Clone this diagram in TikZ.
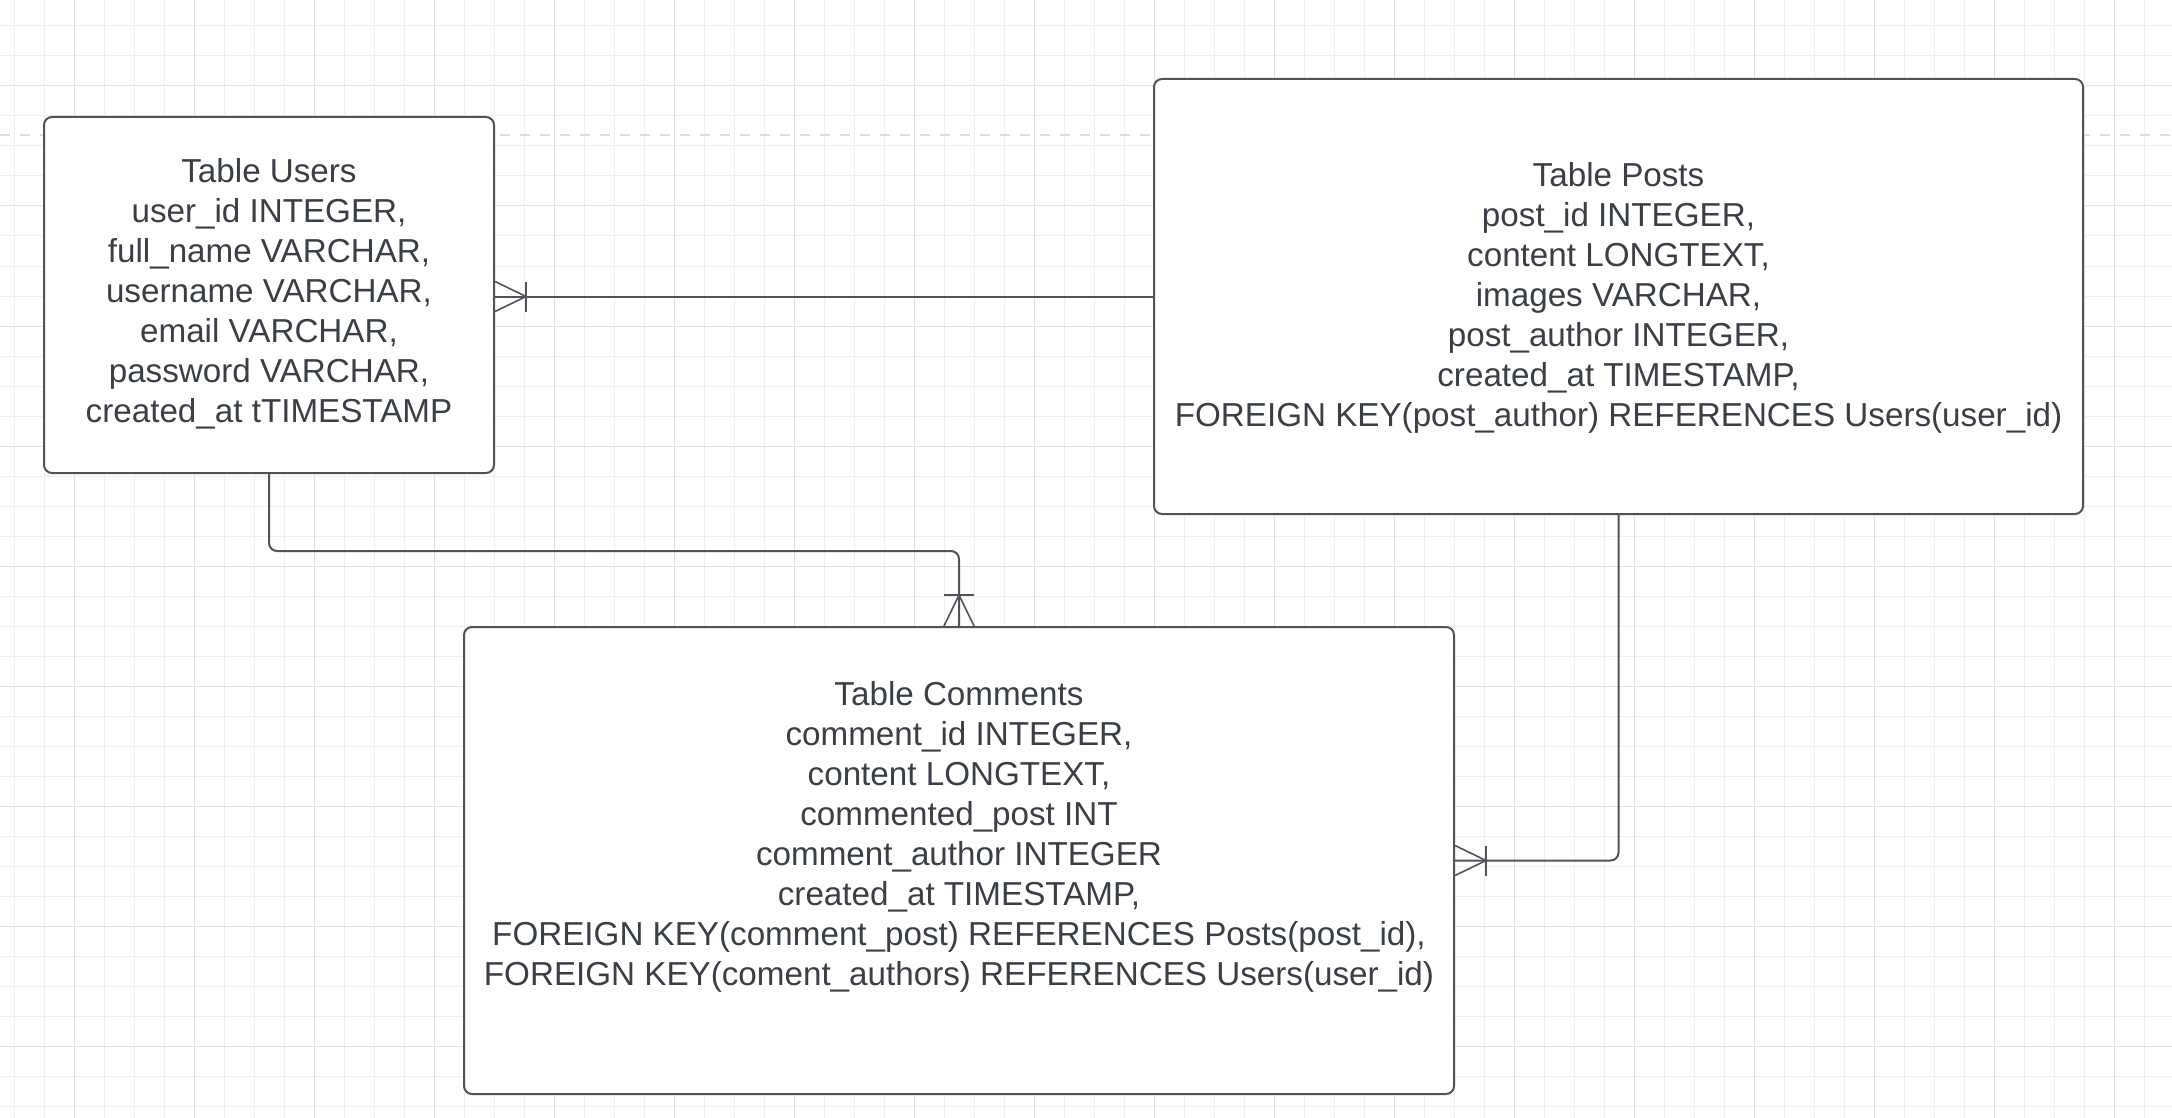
\documentclass[tikz,border=0pt]{standalone}
\usepackage{fontspec}
\setmainfont{Liberation Sans}
\definecolor{ln}{HTML}{50545A}
\definecolor{tx}{HTML}{3A3F47}
\definecolor{gmin}{HTML}{EFEFEF}
\definecolor{gmaj}{HTML}{E2E2E2}
\definecolor{dsh}{HTML}{DCDCDC}
\begin{document}
\begin{tikzpicture}[x=0.5pt,y=-0.5pt,
  tbl/.style={draw=ln, fill=white, line width=1pt, rounded corners=4pt, inner sep=0pt},
  tbltext/.style={text=tx, align=center, inner sep=0pt, font=\fontsize{16.6}{20}\selectfont},
  conn/.style={draw=ln, line width=1pt, rounded corners=4pt},
  marker/.style={draw=ln, line width=0.8pt},
  crow/.pic={\draw[marker] (0,-15) -- (31,0) -- (0,15); \draw[marker] (31,-15) -- (31,15);}]
\useasboundingbox (0,0) rectangle (2172,1118);
\fill[white] (0,0) rectangle (2172,1118);
% grid
\foreach \i in {0,...,72} \draw[gmin, line width=0.5pt] ({14+30*\i},0) -- ({14+30*\i},1118);
\foreach \i in {0,...,36} \draw[gmin, line width=0.5pt] (0,{26+30*\i}) -- (2172,{26+30*\i});
\foreach \i in {0,...,17} \draw[gmaj, line width=0.5pt] ({74+120*\i},0) -- ({74+120*\i},1118);
\foreach \i in {0,...,8} \draw[gmaj, line width=0.5pt] (0,{86+120*\i}) -- (2172,{86+120*\i});
\draw[dsh, line width=1pt, dash pattern=on 5pt off 5pt] (0,135) -- (2172,135);
% tables
\node[tbl, minimum width=225pt, minimum height=178pt] (users) at (269,295) {};
\node[tbl, minimum width=464.5pt, minimum height=217.5pt] (posts) at (1618.5,296.5) {};
\node[tbl, minimum width=495pt, minimum height=233.5pt] (comments) at (959,860.5) {};
\node[tbltext] (usersT) at (269,294) {Table Users\\user\_id INTEGER,\\full\_name VARCHAR,\\username VARCHAR,\\email VARCHAR,\\password VARCHAR,\\created\_at tTIMESTAMP};
\node[tbltext] (postsT) at (1618.5,298) {Table Posts\\post\_id INTEGER,\\content LONGTEXT,\\images VARCHAR,\\post\_author INTEGER,\\created\_at TIMESTAMP,\\FOREIGN KEY(post\_author) REFERENCES Users(user\_id)};
\node[tbltext] (commentsT) at (959,837) {Table Comments\\comment\_id INTEGER,\\content LONGTEXT,\\commented\_post INT\\comment\_author INTEGER\\created\_at TIMESTAMP,\\FOREIGN KEY(comment\_post) REFERENCES Posts(post\_id),\\FOREIGN KEY(coment\_authors) REFERENCES Users(user\_id)};
% connectors
\draw[conn] (posts.west) -- (posts.west -| users.east);
\draw[conn] (users.south) -- ++(0,77) -| (comments.north);
\draw[conn] (posts.south) |- (comments.east);
\pic at (posts.west -| users.east) {crow};
\pic[rotate=90] at (comments.north) {crow};
\pic at (comments.east) {crow};
\end{tikzpicture}
\end{document}
